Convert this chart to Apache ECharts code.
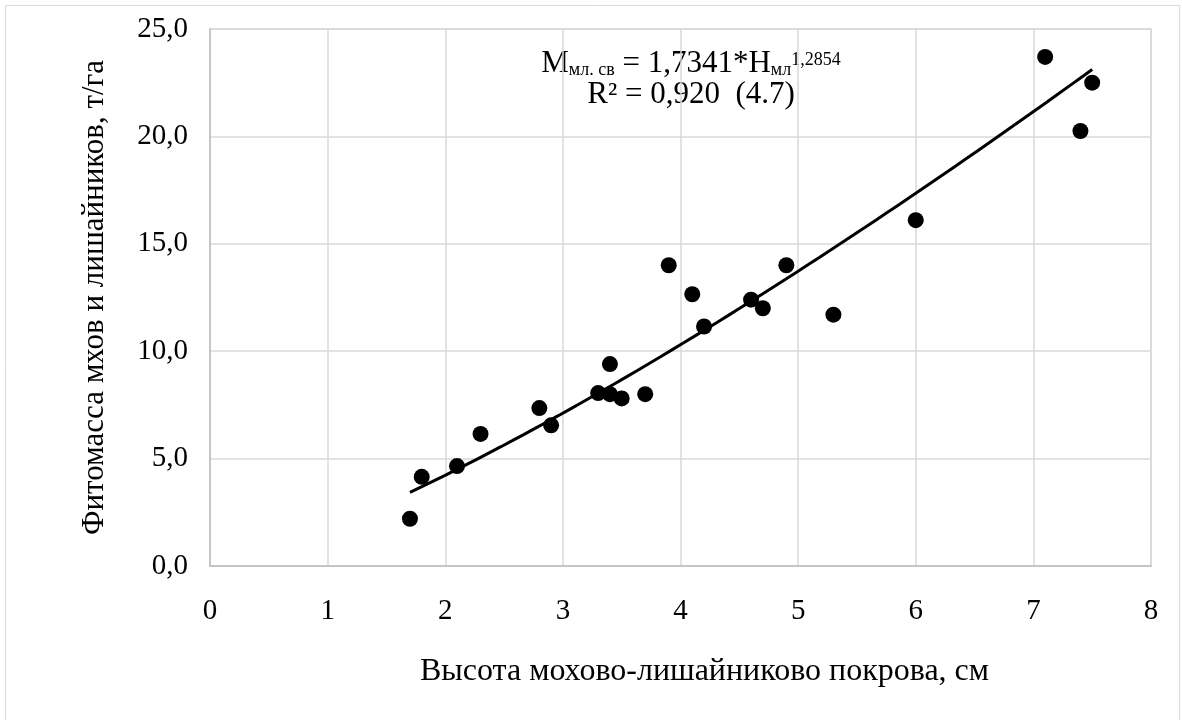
<!DOCTYPE html>
<html>
<head>
<meta charset="utf-8">
<script src="https://cdn.jsdelivr.net/npm/echarts@6/dist/echarts.min.js"></script>
<style>
  html, body { margin: 0; padding: 0; background: #ffffff; }
  #chart { width: 1182px; height: 720px; }
</style>
</head>
<body>
<div id="chart"></div>
<script>
// Height of moss-lichen cover, cm
const heightCm = [1.7, 1.8, 2.1, 2.3, 2.8, 2.9, 3.3, 3.4, 3.4, 3.5, 3.7, 3.9, 4.1, 4.2, 4.6, 4.7, 4.9, 5.3, 6.0, 7.1, 7.4, 7.5];
// Phytomass of mosses and lichens, t/ha
const massTHa = [2.2, 4.15, 4.65, 6.15, 7.35, 6.55, 8.05, 8.0, 9.4, 7.8, 8.0, 14.0, 12.65, 11.15, 12.4, 12.0, 14.0, 11.7, 16.1, 23.7, 20.25, 22.5];

// Power trend M = a * H^b, coefficients as printed on the chart
const trendA = 1.7341;
const trendB = 1.2854;
const trendR2 = '0,920';
const trendRange = [1.7, 7.5];

const xTicks = [0, 1, 2, 3, 4, 5, 6, 7, 8];
const yTicks = [0, 5, 10, 15, 20, 25];

const points = heightCm.map((h, i) => [h, massTHa[i]]);

// sample the trend curve across the data range
const trendPts = [];
const steps = 60;
for (let i = 0; i <= steps; i++) {
  const h = trendRange[0] + (trendRange[1] - trendRange[0]) * i / steps;
  trendPts.push([h, trendA * Math.pow(h, trendB)]);
}

const comma = v => v.replace('.', ',');
const serif = '"Liberation Serif", "DejaVu Serif", serif';
const gridColor = '#d9d9d9';

const chart = echarts.init(document.getElementById('chart'), null, { renderer: 'canvas' });

chart.setOption({
  backgroundColor: '#ffffff',
  animation: false,
  grid: { left: 210, top: 29, right: 31, bottom: 154, containLabel: false,
          show: true, borderColor: gridColor, borderWidth: 1.5 },
  xAxis: {
    type: 'value',
    min: xTicks[0], max: xTicks[xTicks.length - 1], interval: 1,
    name: 'Высота мохово-лишайниково покрова, см',
    nameLocation: 'middle', nameGap: 90,
    nameTextStyle: { fontFamily: serif, fontSize: 32, color: '#000', padding: [0, 0, 0, 48] },
    axisLine: { show: true, lineStyle: { color: '#bfbfbf', width: 1.5 } },
    axisTick: { show: false },
    axisLabel: { fontFamily: serif, fontSize: 29, color: '#000', margin: 31,
                 formatter: v => String(v) },
    splitLine: { show: true, lineStyle: { color: gridColor, width: 1.5 } }
  },
  yAxis: {
    type: 'value',
    min: yTicks[0], max: yTicks[yTicks.length - 1], interval: 5,
    name: 'Фитомасса мхов и лишайников, т/га',
    nameLocation: 'middle', nameGap: 100,
    nameTextStyle: { fontFamily: serif, fontSize: 31, color: '#000' },
    axisLine: { show: true, lineStyle: { color: '#bfbfbf', width: 1.5 } },
    axisTick: { show: false },
    axisLabel: { fontFamily: serif, fontSize: 29, color: '#000', margin: 22,
                 formatter: v => comma(v.toFixed(1)) },
    splitLine: { show: true, lineStyle: { color: gridColor, width: 1.5 } }
  },
  graphic: [
    {
      type: 'rect', silent: true, z: -1,
      shape: { x: 5.5, y: 5.5, width: 1174, height: 716 },
      style: { fill: 'none', stroke: '#d9d9d9', lineWidth: 1 }
    },
    {
      type: 'text', silent: true,
      x: 691, y: 48,
      style: {
        align: 'center', verticalAlign: 'top',
        text: '{big|M}{sub|мл. св}{big| = ' + comma(trendA.toFixed(4)) + '*H}{sub|мл}{sup|' + comma(trendB.toFixed(4)) + '}\n{big|R² = ' + trendR2 + '  (4.7)}',
        rich: {
          big: { fontFamily: serif, fontSize: 31, lineHeight: 31, fill: '#000' },
          sub: { fontFamily: serif, fontSize: 18, lineHeight: 18, verticalAlign: 'bottom', padding: [9, 0, 0, 0], fill: '#000' },
          sup: { fontFamily: serif, fontSize: 18, lineHeight: 18, verticalAlign: 'top', padding: [3, 0, 0, 0], fill: '#000' }
        }
      }
    }
  ],
  series: [
    {
      type: 'scatter',
      data: points,
      symbol: 'circle', symbolSize: 16,
      itemStyle: { color: '#000', opacity: 1 },
      z: 3
    },
    {
      type: 'line',
      data: trendPts,
      showSymbol: false, smooth: false,
      lineStyle: { color: '#000', width: 3 },
      z: 2
    }
  ]
});
</script>
</body>
</html>
